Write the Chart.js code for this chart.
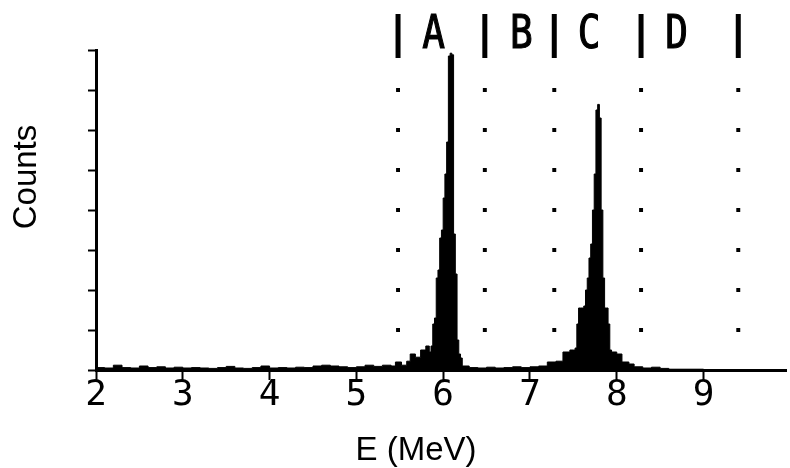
<!DOCTYPE html>
<html>
<head>
<meta charset="utf-8">
<script src="https://cdn.jsdelivr.net/npm/chart.js@4.4.1/dist/chart.umd.min.js"></script>
<style>
  html, body { margin: 0; padding: 0; background: #ffffff; }
  #wrap { width: 790px; height: 468px; }
</style>
</head>
<body>
<div id="wrap"><canvas id="spectrum" width="790" height="468"></canvas></div>
<script>
// Alpha energy spectrum: channel start energies (MeV) and counts (arbitrary units)
const energyMeV = [
  2.0, 2.1, 2.2, 2.3, 2.4, 2.5, 2.6, 2.7, 2.8, 2.9,
  3.0, 3.1, 3.2, 3.3, 3.4, 3.5, 3.6, 3.7, 3.8, 3.9,
  4.0, 4.1, 4.2, 4.3, 4.4, 4.5, 4.6, 4.7, 4.8, 4.9,
  5.0, 5.1, 5.2, 5.3, 5.4, 5.45, 5.52, 5.58, 5.62, 5.68,
  5.74, 5.80, 5.84, 5.86, 5.88, 5.90, 5.92, 5.94, 5.96, 5.98,
  6.00, 6.02, 6.04, 6.06, 6.08, 6.10, 6.12, 6.14, 6.16, 6.18,
  6.20, 6.22, 6.30, 6.40, 6.50, 6.60, 6.70, 6.80, 6.90, 7.00,
  7.10, 7.20, 7.30, 7.38, 7.46, 7.50, 7.52, 7.54, 7.56, 7.58,
  7.60, 7.62, 7.64, 7.66, 7.68, 7.70, 7.72, 7.74, 7.76, 7.78,
  7.80, 7.82, 7.84, 7.86, 7.88, 7.90, 7.92, 7.94, 8.00, 8.06,
  8.14, 8.20, 8.30, 8.40, 8.50, 8.60, 9.00, 9.95
];
const counts = [
  0.06, 0.05, 0.12, 0.06, 0.05, 0.10, 0.06, 0.08, 0.05, 0.07,
  0.05, 0.06, 0.05, 0.04, 0.06, 0.09, 0.05, 0.04, 0.06, 0.10,
  0.05, 0.06, 0.05, 0.07, 0.06, 0.10, 0.12, 0.10, 0.08, 0.06,
  0.08, 0.12, 0.09, 0.12, 0.10, 0.20, 0.12, 0.22, 0.40, 0.32,
  0.50, 0.60, 0.45, 0.60, 1.15, 1.30, 2.30, 2.50, 3.30, 3.50,
  4.30, 4.90, 5.70, 7.85, 7.92, 7.88, 3.40, 2.40, 0.75, 0.40,
  0.30, 0.10, 0.06, 0.05, 0.07, 0.05, 0.06, 0.08, 0.06, 0.08,
  0.10, 0.20, 0.22, 0.45, 0.50, 0.50, 0.55, 1.15, 1.55, 1.55,
  1.55, 1.60, 2.00, 2.30, 2.80, 3.15, 4.00, 4.90, 6.50, 6.64,
  6.30, 4.00, 2.30, 1.55, 1.55, 1.15, 0.50, 0.45, 0.40, 0.20,
  0.15, 0.08, 0.05, 0.07, 0.04, 0.02, 0.00, 0.00
];

// Axis ticks
const energyTicks = [2, 3, 4, 5, 6, 7, 8, 9];
const countTicks = [0, 1, 2, 3, 4, 5, 6, 7, 8];

// Energy windows: boundaries, their names and where the names sit
const windowEdges = [5.48, 6.48, 7.28, 8.28, 9.40];
const windowLabels = ['A', 'B', 'C', 'D'];
const windowLabelE = [5.89, 6.90, 7.68, 8.69];
const markerLevels = [1, 2, 3, 4, 5, 6, 7];

const spectrumPoints = energyMeV.map((e, i) => ({ x: e, y: counts[i] }));
const markerPoints = [];
windowEdges.forEach(e => markerLevels.forEach(l => markerPoints.push({ x: e, y: l })));

// Window boundary bars and names above the plot
const windowPlugin = {
  id: 'windowMarks',
  afterDatasetsDraw(chart) {
    const { ctx, scales: { x, y } } = chart;
    ctx.save();
    ctx.fillStyle = '#000';
    const barTop = y.getPixelForValue(8.9);
    const barBottom = y.getPixelForValue(7.8);
    windowEdges.forEach(e => {
      const px = x.getPixelForValue(e);
      ctx.fillRect(px - 2.5, barTop, 5, barBottom - barTop);
    });
    ctx.font = '46px "DejaVu Sans Mono"';
    ctx.textAlign = 'center';
    ctx.textBaseline = 'alphabetic';
    windowLabels.forEach((t, i) => {
      ctx.save();
      ctx.translate(x.getPixelForValue(windowLabelE[i]), 48);
      ctx.scale(0.82, 1);
      ctx.lineWidth = 1.2;
      ctx.strokeStyle = '#000';
      ctx.fillText(t, 0, 0);
      ctx.strokeText(t, 0, 0);
      ctx.restore();
    });
    ctx.restore();
  }
};

// Axis titles
const titlePlugin = {
  id: 'axisTitles',
  afterDraw(chart) {
    const { ctx } = chart;
    ctx.save();
    ctx.fillStyle = '#000';
    ctx.font = '33px "Liberation Sans", Arial, sans-serif';
    ctx.textAlign = 'center';
    ctx.textBaseline = 'middle';
    ctx.fillText('E (MeV)', 416, 451);
    ctx.translate(27, 177);
    ctx.rotate(-Math.PI / 2);
    ctx.fillText('Counts', 0, 0);
    ctx.restore();
  }
};

new Chart(document.getElementById('spectrum'), {
  type: 'line',
  data: {
    datasets: [
      {
        data: spectrumPoints,
        stepped: 'before',
        borderColor: '#000',
        borderWidth: 1,
        backgroundColor: '#000',
        fill: 'origin',
        pointRadius: 0,
        order: 1
      },
      {
        type: 'scatter',
        data: markerPoints,
        showLine: false,
        pointStyle: 'rect',
        pointRadius: 2.8,
        borderWidth: 0,
        backgroundColor: '#000',
        order: 2
      }
    ]
  },
  options: {
    responsive: false,
    animation: false,
    devicePixelRatio: 1,
    layout: { padding: { top: 50, right: 0, left: 0, bottom: 0 } },
    plugins: { legend: { display: false }, tooltip: { enabled: false } },
    scales: {
      x: {
        type: 'linear',
        min: 2,
        max: 9.95,
        afterBuildTicks: s => { s.ticks = energyTicks.map(v => ({ value: v })); },
        afterFit: s => { s.height = 98; },
        border: { display: true, color: '#000', width: 3 },
        grid: { drawOnChartArea: false, drawTicks: true, tickLength: 10, tickWidth: 2, color: '#000', tickColor: '#000' },
        ticks: {
          color: '#000',
          padding: -6,
          maxRotation: 0,
          font: { family: '"DejaVu Sans Mono", monospace', size: 36 }
        }
      },
      y: {
        type: 'linear',
        min: 0,
        max: 8,
        afterBuildTicks: s => { s.ticks = countTicks.map(v => ({ value: v })); },
        afterFit: s => { s.width = 96; },
        border: { display: true, color: '#000', width: 3 },
        grid: { drawOnChartArea: false, drawTicks: true, tickLength: 8, tickWidth: 2, color: '#000', tickColor: '#000' },
        ticks: { display: false }
      }
    }
  },
  plugins: [windowPlugin, titlePlugin]
});
</script>
</body>
</html>
